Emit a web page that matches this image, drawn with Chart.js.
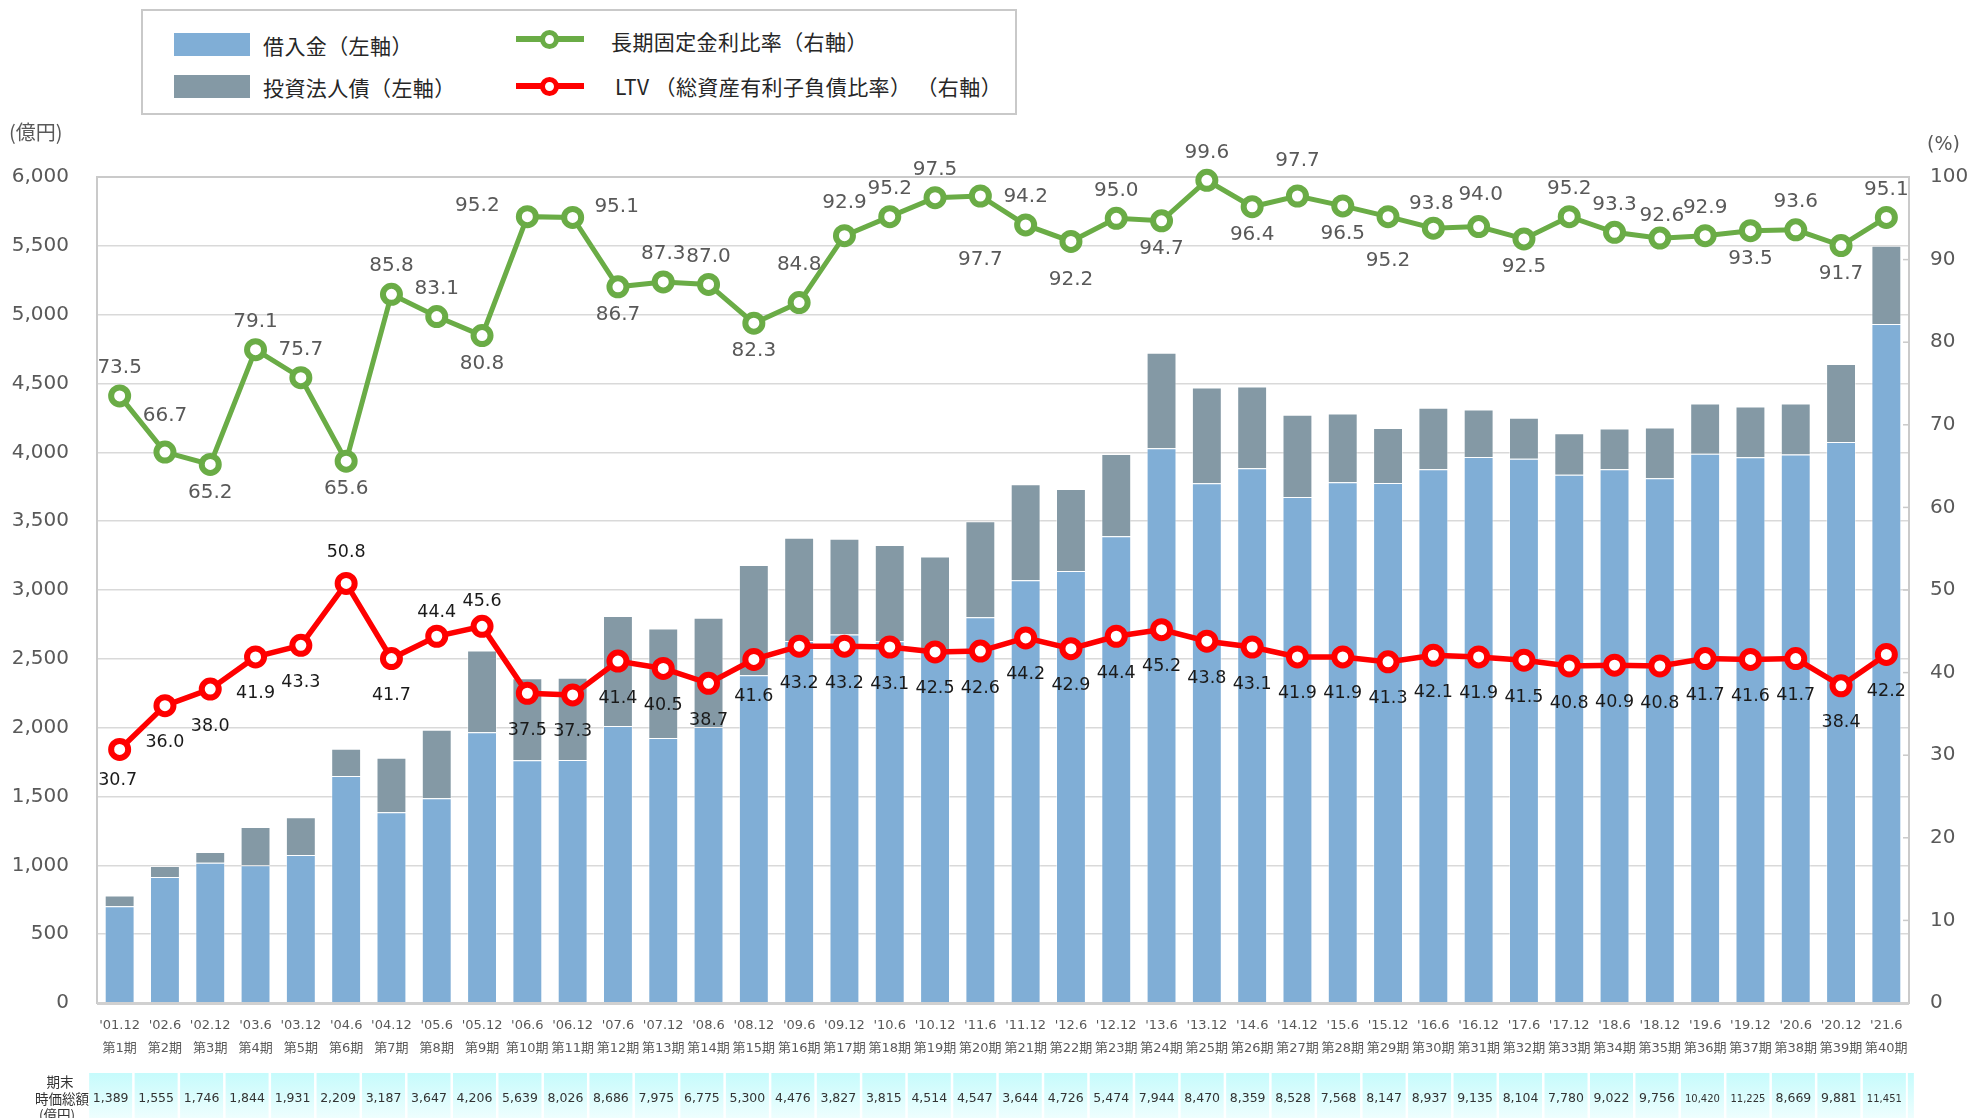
<!DOCTYPE html>
<html lang="ja">
<head>
<meta charset="utf-8">
<title>有利子負債・LTVの推移</title>
<script src="https://cdn.jsdelivr.net/npm/chart.js@4.4.1/dist/chart.umd.min.js"></script>
<style>
  html, body { margin: 0; padding: 0; background: #fff; }
  #wrap { position: relative; width: 1974px; height: 1118px; overflow: hidden; }
  #debtChart { position: absolute; left: 0; top: 0; }
  .legend-box { position: absolute; left: 141px; top: 9px; width: 876px; height: 106px; box-sizing: border-box; border: 2px solid #c9c9c9; background: #fff; }
  .lg-swatch { position: absolute; width: 76px; height: 23px; }
  .lg-text { position: absolute; font-family: "Noto Sans CJK JP", sans-serif; font-size: 21px; letter-spacing: 0.4px; line-height: 28px; color: #262626; white-space: pre; }
  .lg-line { position: absolute; width: 68px; height: 6px; }
  .lg-dot { position: absolute; width: 9px; height: 9px; border-radius: 50%; background: #fff; border: 5px solid; }
</style>
</head>
<body>
<div id="wrap">
  <canvas id="debtChart" width="1974" height="1118"></canvas>

  <div class="legend-box"></div>
  <div class="lg-swatch" style="left:174px; top:33px; background:#80aed6;"></div>
  <div class="lg-text" style="left:263px; top:31px;">借入金（左軸）</div>
  <div class="lg-swatch" style="left:174px; top:75px; background:#8499a5;"></div>
  <div class="lg-text" style="left:263px; top:73px;">投資法人債（左軸）</div>

  <div class="lg-line" style="left:516px; top:36px; background:#6aac46;"></div>
  <div class="lg-dot" style="left:540px; top:30px; border-color:#6aac46;"></div>
  <div class="lg-text" style="left:611px; top:27px;">長期固定金利比率（右軸）</div>
  <div class="lg-line" style="left:516px; top:83px; background:#ff0000;"></div>
  <div class="lg-dot" style="left:540px; top:77px; border-color:#ff0000;"></div>
  <div class="lg-text" style="left:615px; top:72px;">LTV （総資産有利子負債比率） （右軸）</div>
</div>

<script>
// 決算期
const periods = ["'01.12", "'02.6", "'02.12", "'03.6", "'03.12", "'04.6", "'04.12", "'05.6", "'05.12", "'06.6",
  "'06.12", "'07.6", "'07.12", "'08.6", "'08.12", "'09.6", "'09.12", "'10.6", "'10.12", "'11.6",
  "'11.12", "'12.6", "'12.12", "'13.6", "'13.12", "'14.6", "'14.12", "'15.6", "'15.12", "'16.6",
  "'16.12", "'17.6", "'17.12", "'18.6", "'18.12", "'19.6", "'19.12", "'20.6", "'20.12", "'21.6"];
const terms = ['第1期', '第2期', '第3期', '第4期', '第5期', '第6期', '第7期', '第8期', '第9期', '第10期',
  '第11期', '第12期', '第13期', '第14期', '第15期', '第16期', '第17期', '第18期', '第19期', '第20期',
  '第21期', '第22期', '第23期', '第24期', '第25期', '第26期', '第27期', '第28期', '第29期', '第30期',
  '第31期', '第32期', '第33期', '第34期', '第35期', '第36期', '第37期', '第38期', '第39期', '第40期'];

// 借入金・投資法人債（億円）
const borrowings = [703, 915, 1019, 1000, 1075, 1649, 1386, 1488, 1966, 1763,
  1766, 2012, 1925, 2005, 2381, 2630, 2676, 2628, 2560, 2802,
  3071, 3138, 3391, 4029, 3775, 3884, 3676, 3782, 3778, 3877,
  3966, 3954, 3838, 3877, 3812, 3990, 3964, 3985, 4075, 4932];
const bonds = [77, 80, 77, 278, 275, 198, 396, 497, 594, 596,
  596, 799, 795, 794, 800, 749, 696, 698, 684, 698,
  697, 596, 597, 695, 696, 594, 597, 500, 398, 446,
  345, 297, 300, 297, 369, 365, 369, 370, 567, 568];

// 長期固定金利比率・LTV（%）
const fixedRateRatio = [73.5, 66.7, 65.2, 79.1, 75.7, 65.6, 85.8, 83.1, 80.8, 95.2,
  95.1, 86.7, 87.3, 87.0, 82.3, 84.8, 92.9, 95.2, 97.5, 97.7,
  94.2, 92.2, 95.0, 94.7, 99.6, 96.4, 97.7, 96.5, 95.2, 93.8,
  94.0, 92.5, 95.2, 93.3, 92.6, 92.9, 93.5, 93.6, 91.7, 95.1];
const ltvRatio = [30.7, 36.0, 38.0, 41.9, 43.3, 50.8, 41.7, 44.4, 45.6, 37.5,
  37.3, 41.4, 40.5, 38.7, 41.6, 43.2, 43.2, 43.1, 42.5, 42.6,
  44.2, 42.9, 44.4, 45.2, 43.8, 43.1, 41.9, 41.9, 41.3, 42.1,
  41.9, 41.5, 40.8, 40.9, 40.8, 41.7, 41.6, 41.7, 38.4, 42.2];

// 期末時価総額（億円）
const marketCap = [1389, 1555, 1746, 1844, 1931, 2209, 3187, 3647, 4206, 5639,
  8026, 8686, 7975, 6775, 5300, 4476, 3827, 3815, 4514, 4547,
  3644, 4726, 5474, 7944, 8470, 8359, 8528, 7568, 8147, 8937,
  9135, 8104, 7780, 9022, 9756, 10420, 11225, 8669, 9881, 11451];

const leftTicks = [0, 500, 1000, 1500, 2000, 2500, 3000, 3500, 4000, 4500, 5000, 5500, 6000];
const rightTicks = [0, 10, 20, 30, 40, 50, 60, 70, 80, 90, 100];

// ラベル配置（上/下、個別の位置ずれ）
const fixedLabelBelow = [2, 5, 8, 11, 14, 19, 21, 23, 25, 27, 28, 31, 36, 38];
const fixedLabelShift = { 1: [0, -36], 9: [-50, -11], 10: [44, -11], 15: [0, -38], 16: [0, -33],
  19: [0, 64], 21: [0, 38], 26: [0, -35], 28: [0, 44], 29: [-2, -24], 30: [2, -32], 34: [2, -22] };
const ltvLabelAbove = [5, 7, 8];
const ltvLabelShift = { 0: [-2, 31], 5: [0, -31], 7: [0, -24], 8: [0, -25] };

const NUM_FONT = '"DejaVu Sans", Verdana, sans-serif';
const JP_FONT = '"Noto Sans CJK JP", sans-serif';
const GRAY_TEXT = '#595959';

const overlayPlugin = {
  id: 'overlay',
  beforeDatasetsDraw(chart) {
    const { ctx, chartArea: a, scales } = chart;
    ctx.save();
    // plot frame
    ctx.strokeStyle = '#cacaca';
    ctx.lineWidth = 2;
    ctx.strokeRect(a.left, a.top, a.right - a.left, a.bottom - a.top);
    // inner tick marks on the right axis
    ctx.lineWidth = 1.5;
    rightTicks.forEach(v => {
      const y = scales.y1.getPixelForValue(v);
      ctx.beginPath();
      ctx.moveTo(a.right - 6, y);
      ctx.lineTo(a.right, y);
      ctx.stroke();
    });
    ctx.restore();
  },
  afterDatasetsDraw(chart) {
    const { ctx, chartArea: a, scales } = chart;
    ctx.save();
    // bottom axis line
    ctx.strokeStyle = '#d0d0d0';
    ctx.lineWidth = 3;
    ctx.beginPath();
    ctx.moveTo(a.left, a.bottom + 0.5);
    ctx.lineTo(a.right, a.bottom + 0.5);
    ctx.stroke();

    ctx.textAlign = 'center';
    ctx.textBaseline = 'middle';

    // 長期固定金利比率 labels
    const fixedMeta = chart.getDatasetMeta(1);
    ctx.font = '20px ' + NUM_FONT;
    ctx.fillStyle = GRAY_TEXT;
    fixedMeta.data.forEach((pt, i) => {
      let [dx, dy] = fixedLabelBelow.includes(i) ? [0, 28] : [0, -28];
      if (fixedLabelShift[i]) [dx, dy] = fixedLabelShift[i];
      ctx.fillText(fixedRateRatio[i].toFixed(1), pt.x + dx, pt.y + dy);
    });

    // LTV labels
    const ltvMeta = chart.getDatasetMeta(0);
    ctx.font = '17.5px ' + NUM_FONT;
    ctx.fillStyle = '#1a1a1a';
    ltvMeta.data.forEach((pt, i) => {
      let [dx, dy] = ltvLabelAbove.includes(i) ? [0, -27] : [0, 37];
      if (ltvLabelShift[i]) [dx, dy] = ltvLabelShift[i];
      ctx.fillText(ltvRatio[i].toFixed(1), pt.x + dx, pt.y + dy);
    });

    // axis unit titles
    ctx.fillStyle = GRAY_TEXT;
    ctx.textAlign = 'left';
    ctx.font = '20px ' + JP_FONT;
    ctx.fillText('(億円)', 9, 132);
    ctx.font = '19px ' + NUM_FONT;
    ctx.fillText('(%)', 1927, 145);

    // 期末時価総額 table
    const top = 1073;
    let lastRight = 0;
    marketCap.forEach((v, i) => {
      const cx = scales.x.getPixelForValue(i) - 9 + i * 0.18;
      const grad = ctx.createLinearGradient(0, top, 0, 1118);
      grad.addColorStop(0, '#c6fbfc');
      grad.addColorStop(1, '#eefefe');
      ctx.fillStyle = grad;
      ctx.fillRect(cx - 21.5, top, 43, 1118 - top);
      lastRight = cx + 21.5;
      ctx.fillStyle = '#333';
      ctx.textAlign = 'center';
      ctx.font = (v >= 10000 ? '10px ' : '12.5px ') + NUM_FONT;
      ctx.fillText(v.toLocaleString('en-US'), cx, 1099);
    });
    const grad = ctx.createLinearGradient(0, top, 0, 1118);
    grad.addColorStop(0, '#c6fbfc');
    grad.addColorStop(1, '#eefefe');
    ctx.fillStyle = grad;
    ctx.fillRect(lastRight + 2, top, 6, 1118 - top);

    ctx.fillStyle = '#333';
    ctx.textAlign = 'center';
    ctx.font = '13.5px ' + JP_FONT;
    ctx.fillText('期末', 60, 1082);
    ctx.fillText('時価総額', 62, 1099);
    ctx.fillText('(億円)', 57, 1115);
    ctx.restore();
  }
};

new Chart(document.getElementById('debtChart'), {
  type: 'bar',
  data: {
    labels: periods.map((p, i) => [p, terms[i]]),
    datasets: [
      {
        type: 'line', label: 'LTV（総資産有利子負債比率）（右軸）', data: ltvRatio, yAxisID: 'y1',
        borderColor: '#ff0000', borderWidth: 5.5, pointRadius: 8.5, pointBorderWidth: 6,
        pointBackgroundColor: '#ffffff', pointBorderColor: '#ff0000', order: 0, clip: false
      },
      {
        type: 'line', label: '長期固定金利比率（右軸）', data: fixedRateRatio, yAxisID: 'y1',
        borderColor: '#6aac46', borderWidth: 5, pointRadius: 8.5, pointBorderWidth: 6,
        pointBackgroundColor: '#ffffff', pointBorderColor: '#6aac46', order: 1, clip: false
      },
      {
        label: '借入金（左軸）', data: borrowings, yAxisID: 'y', stack: 'debt',
        backgroundColor: '#80aed6', borderColor: 'rgba(255,255,255,0.45)', borderWidth: 1, order: 2
      },
      {
        label: '投資法人債（左軸）', data: bonds, yAxisID: 'y', stack: 'debt',
        backgroundColor: '#8499a5', borderColor: 'rgba(255,255,255,0.45)', borderWidth: 1, order: 3
      }
    ]
  },
  options: {
    responsive: false,
    animation: false,
    barPercentage: 0.66,
    categoryPercentage: 1.0,
    layout: { padding: { top: 177, left: 0, right: 0, bottom: 0 } },
    plugins: { legend: { display: false }, tooltip: { enabled: false } },
    scales: {
      x: {
        stacked: true,
        grid: { display: false, drawTicks: false },
        border: { display: false },
        ticks: {
          autoSkip: false, maxRotation: 0, minRotation: 0, padding: 11, color: GRAY_TEXT,
          font: { family: '"DejaVu Sans", "Noto Sans CJK JP", sans-serif', size: 13, lineHeight: 1.75 }
        },
        afterFit: s => { s.height = 115; }
      },
      y: {
        stacked: true, position: 'left', min: 0, max: 6000,
        afterBuildTicks: s => { s.ticks = leftTicks.map(v => ({ value: v })); },
        ticks: {
          padding: 28, color: GRAY_TEXT, font: { family: NUM_FONT, size: 20 },
          callback: v => v.toLocaleString('en-US')
        },
        grid: { color: '#d9d9d9', lineWidth: 1.5, drawTicks: false },
        border: { display: false },
        afterFit: s => { s.width = 97; }
      },
      y1: {
        position: 'right', min: 0, max: 100,
        afterBuildTicks: s => { s.ticks = rightTicks.map(v => ({ value: v })); },
        ticks: { padding: 21, color: GRAY_TEXT, font: { family: NUM_FONT, size: 20 } },
        grid: { display: false, drawTicks: false },
        border: { display: false },
        afterFit: s => { s.width = 65; }
      }
    }
  },
  plugins: [overlayPlugin]
});
</script>
</body>
</html>
